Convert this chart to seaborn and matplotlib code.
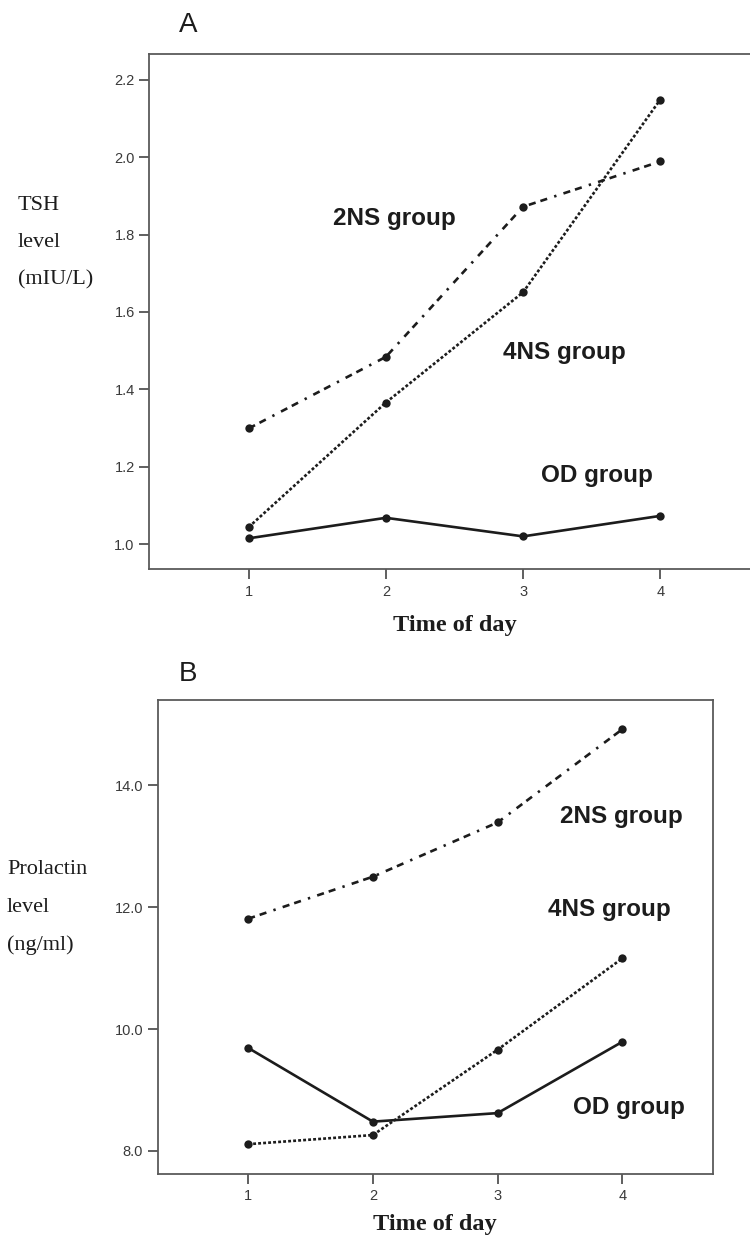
import numpy as np
import pandas as pd
import matplotlib
matplotlib.use("Agg")
import matplotlib.pyplot as plt
import seaborn as sns

# ---- data ----
time_points = [1, 2, 3, 4]
tsh_od = [1.015, 1.068, 1.020, 1.073]
tsh_4ns = [1.044, 1.366, 1.651, 2.149]
tsh_2ns = [1.299, 1.484, 1.872, 1.989]
prl_od = [9.69, 8.48, 8.62, 9.79]
prl_4ns = [8.11, 8.26, 9.66, 11.16]
prl_2ns = [11.81, 12.50, 13.39, 14.92]
tsh_ticks = [1.0, 1.2, 1.4, 1.6, 1.8, 2.0, 2.2]
prl_ticks = [8.0, 10.0, 12.0, 14.0]
group_names = ["OD group", "4NS group", "2NS group"]

sns.set_style("white")
plt.rcParams["font.family"] = ["Liberation Sans", "DejaVu Sans"]

fig = plt.figure(figsize=(7.5, 12.37), dpi=100)
axA = fig.add_axes([0.199, 0.5398, 0.814, 0.4166])
axB = fig.add_axes([0.2103, 0.0509, 0.740, 0.3832])

ink = "#1c1c1c"
styles = {
    "OD group": "-",
    "4NS group": (0, (1.1, 0.8)),
    "2NS group": (0, (2.7, 1.9, 2.7, 2.8, 0.9, 2.8)),
}

def draw(ax, series, ticks, ylim, label_pos, xlabelpad):
    for name, vals in zip(group_names, series):
        df = pd.DataFrame({"time": time_points, "value": vals})
        sns.lineplot(data=df, x="time", y="value", ax=ax, color=ink,
                     marker="o", markersize=6, markeredgewidth=0,
                     linewidth=1.9, linestyle=styles[name], legend=False)
    for name, (x, y) in zip(group_names, label_pos):
        ax.text(x, y, name, ha="center", va="center", fontsize=17.5,
                fontweight="bold", color=ink)
    ax.set_xlim(0.275, 4.725)
    ax.set_ylim(*ylim)
    ax.set_xticks(time_points)
    ax.set_xticklabels([str(t) for t in time_points])
    ax.set_yticks(ticks)
    ax.set_yticklabels([f"{t:.1f}" for t in ticks])
    for s in ax.spines.values():
        s.set_visible(True)
        s.set_color("#5a5a5a")
        s.set_linewidth(1.3)
    ax.tick_params(axis="both", which="major", length=7, width=1.2,
                   color="#444444", labelcolor="#3a3a3a", labelsize=10.5,
                   direction="out", left=True, bottom=True)
    ax.tick_params(axis="y", pad=3.5)
    ax.tick_params(axis="x", pad=4)
    ax.set_ylabel("")
    ax.set_xlabel("Time of day", fontsize=17.5, fontweight="bold",
                  family=["Liberation Serif", "DejaVu Serif"], color=ink,
                  labelpad=xlabelpad)
    ax.set_facecolor("white")

draw(axA, [tsh_od, tsh_4ns, tsh_2ns], tsh_ticks, (0.935, 2.267),
     [(3.54, 1.178), (3.30, 1.494), (2.06, 1.841)], 12)
draw(axB, [prl_od, prl_4ns, prl_2ns], prl_ticks, (7.62, 15.40),
     [(4.05, 8.72), (3.90, 11.97), (3.99, 13.49)], 8)

H = 1237.0
def ftext(x, y, s, **kw):
    fig.text(x / 750.0, 1 - y / H, s, **kw)

ftext(188, 25, "A", fontsize=20, ha="center", va="center", color=ink)
ftext(188, 674, "B", fontsize=20, ha="center", va="center", color=ink)

serif = ["Liberation Serif", "DejaVu Serif"]
for txt, y in zip(["TSH", "level", "(mIU/L)"], [205, 243, 280]):
    ftext(18, y, txt, fontsize=16, ha="left", va="center", family=serif, color=ink)
for txt, y in zip(["Prolactin", "level", "(ng/ml)"], [870, 907, 945]):
    ftext(7, y, txt, fontsize=16, ha="left", va="center", family=serif, color=ink)

fig.savefig("out.png", dpi=100)
